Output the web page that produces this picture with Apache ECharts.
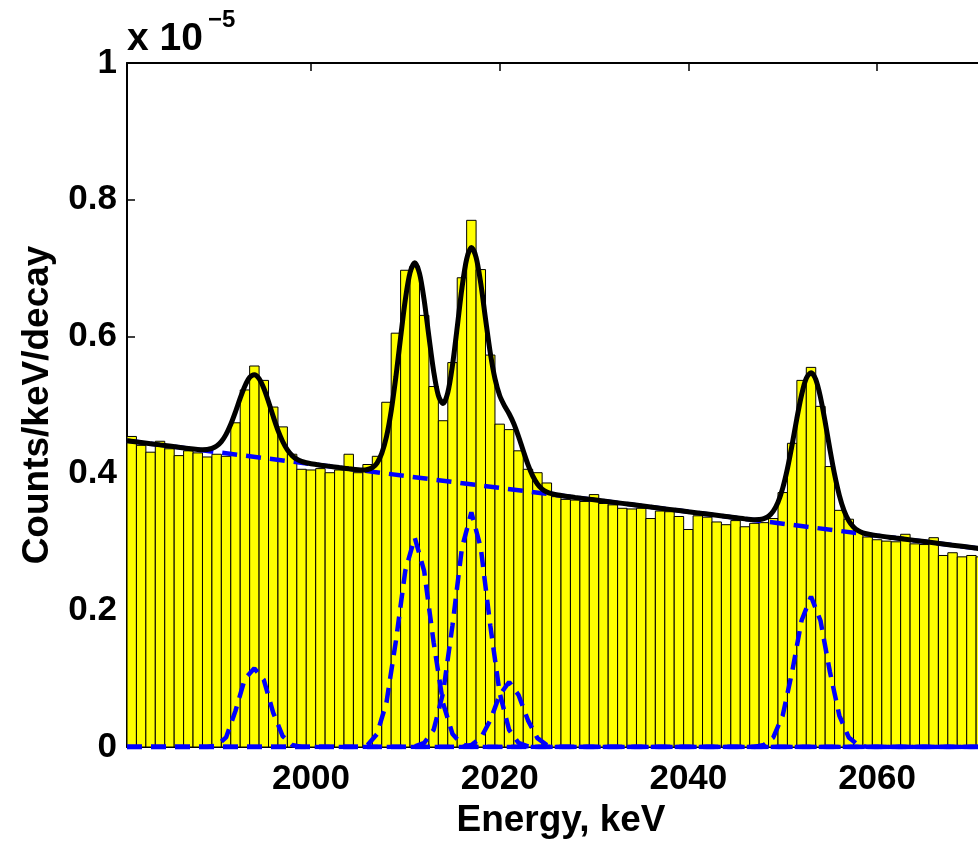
<!DOCTYPE html>
<html>
<head>
<meta charset="utf-8">
<script src="https://cdn.jsdelivr.net/npm/echarts@6/dist/echarts.min.js"></script>
<style>
  html, body { margin: 0; padding: 0; background: #fff; }
  #chart { width: 978px; height: 841px; }
</style>
</head>
<body>
<div id="chart"></div>
<script>
// ---- data (units of 1e-5 counts/keV/decay) ----
const firstBin = 1981;   // centre of the first 1-keV bin
const binWidth = 1;
const counts = [
  0.454, 0.441, 0.431, 0.447, 0.436, 0.426, 0.433, 0.430, 0.424, 0.428,
  0.425, 0.474, 0.522, 0.557, 0.536, 0.497, 0.468, 0.428, 0.406, 0.405,
  0.407, 0.401, 0.405, 0.428, 0.401, 0.413, 0.425, 0.504, 0.605, 0.697,
  0.703, 0.631, 0.527, 0.477, 0.562, 0.686, 0.770, 0.698, 0.573, 0.472,
  0.464, 0.433, 0.406, 0.401, 0.386, 0.366, 0.362, 0.361, 0.359, 0.369,
  0.356, 0.354, 0.349, 0.348, 0.349, 0.334, 0.345, 0.344, 0.337, 0.318,
  0.338, 0.336, 0.329, 0.325, 0.331, 0.322, 0.327, 0.328, 0.334, 0.372,
  0.444, 0.536, 0.555, 0.498, 0.410, 0.346, 0.333, 0.315, 0.307, 0.303,
  0.301, 0.300, 0.311, 0.297, 0.296, 0.306, 0.280, 0.284, 0.278, 0.280,
  0.278
];
const binCenters = counts.map((_, i) => firstBin + i * binWidth);

// total fit (black)
const fitCurve = [
  [1980.5,0.4478],[1982,0.4452],[1984,0.4417],[1986,0.4382],[1987,0.4364],
  [1988,0.4350],[1988.5,0.4347],[1989,0.4349],[1989.5,0.4365],[1990,0.4400],
  [1990.5,0.4465],[1991,0.4571],[1991.5,0.4718],[1992,0.4901],[1992.5,0.5100],
  [1993,0.5279],[1993.5,0.5403],[1994,0.5442],[1994.5,0.5385],[1995,0.5244],
  [1995.5,0.5048],[1996,0.4831],[1996.5,0.4630],[1997,0.4466],[1997.5,0.4343],
  [1998,0.4260],[1998.5,0.4207],[1999,0.4175],[1999.5,0.4155],[2000,0.4140],
  [2001,0.4120],[2002,0.4103],[2003,0.4085],[2004,0.4068],[2005,0.4052],
  [2005.5,0.4048],[2006,0.4057],[2006.5,0.4084],[2007,0.4152],[2007.5,0.4293],
  [2008,0.4536],[2008.5,0.4912],[2009,0.5414],[2009.5,0.5988],[2010,0.6539],
  [2010.5,0.6934],[2011,0.7079],[2011.5,0.6926],[2012,0.6530],[2012.5,0.6001],
  [2013,0.5496],[2013.5,0.5138],[2014,0.5021],[2014.5,0.5182],[2015,0.5584],
  [2015.5,0.6137],[2016,0.6709],[2016.5,0.7133],[2017,0.7301],[2017.5,0.7159],
  [2018,0.6774],[2018.5,0.6260],[2019,0.5767],[2019.5,0.5386],[2020,0.5139],
  [2020.5,0.4991],[2021,0.4872],[2021.5,0.4727],[2022,0.4540],[2022.5,0.4330],
  [2023,0.4129],[2023.5,0.3964],[2024,0.3846],[2024.5,0.3771],[2025,0.3728],
  [2025.5,0.3703],[2026,0.3687],[2027,0.3666],[2028,0.3648],[2030,0.3614],
  [2032,0.3579],[2034,0.3544],[2036,0.3509],[2038,0.3474],[2040,0.3439],
  [2042,0.3405],[2044,0.3370],[2046,0.3335],[2047,0.3324],[2047.5,0.3325],
  [2048,0.3338],[2048.5,0.3374],[2049,0.3449],[2049.5,0.3579],[2050,0.3785],
  [2050.5,0.4070],[2051,0.4423],[2051.5,0.4805],[2052,0.5149],[2052.5,0.5391],
  [2053,0.5473],[2053.5,0.5374],[2054,0.5114],[2054.5,0.4752],[2055,0.4353],
  [2055.5,0.3983],[2056,0.3680],[2056.5,0.3456],[2057,0.3309],[2057.5,0.3217],
  [2058,0.3163],[2058.5,0.3132],[2059,0.3114],[2060,0.3090],[2062,0.3055],
  [2064,0.3021],[2066,0.2986],[2068,0.2951],[2070,0.2916],[2072.5,0.2872]
];

// fit components (blue dashed)
const background = [[1980.5,0.4478],[2000,0.4137],[2020,0.3788],[2040,0.3439],[2060,0.3090],[2072.5,0.2872]];
const peak1994 = [[1980.5,0],[1989,0],[1990,0.002],[1991,0.014],[1992,0.053],[1993,0.100],[1994,0.115],[1995,0.098],[1996,0.050],[1997,0.016],[1998,0.003],[1999,0],[2072.5,0]];
const peak2011 = [[1980.5,0],[2005,0],[2006,0.003],[2007,0.019],[2008,0.065],[2009,0.155],[2010,0.258],[2011,0.306],[2012,0.257],[2013,0.153],[2014,0.064],[2015,0.019],[2016,0.004],[2017,0],[2072.5,0]];
const peak2017 = [[1980.5,0],[2010,0],[2011,0.001],[2012,0.006],[2013,0.025],[2014,0.079],[2015,0.178],[2016,0.291],[2017,0.343],[2018,0.291],[2019,0.178],[2020,0.079],[2021,0.025],[2022,0.006],[2023,0.001],[2024,0],[2072.5,0]];
const peak2021 = [[1980.5,0],[2016,0],[2017,0.003],[2018,0.013],[2019,0.039],[2020,0.076],[2021,0.095],[2022,0.076],[2023,0.039],[2024,0.013],[2025,0.003],[2026,0],[2072.5,0]];
const peak2053 = [[1980.5,0],[2047,0],[2048,0.003],[2049,0.014],[2050,0.046],[2051,0.110],[2052,0.185],[2053,0.220],[2054,0.185],[2055,0.110],[2056,0.046],[2057,0.014],[2058,0.003],[2059,0],[2072.5,0]];

const xTicks = [2000, 2020, 2040, 2060];
const yTicks = [0, 0.2, 0.4, 0.6, 0.8, 1];
const xLabel = 'Energy, keV';
const yLabel = 'Counts/keV/decay';

// ---- chart ----
const FONT = "'Liberation Sans', Arial, Helvetica, sans-serif";
const chart = echarts.init(document.getElementById('chart'), null, { renderer: 'canvas' });

const dashStyle = { color: '#0000ff', width: 4.5, type: [15, 9], cap: 'butt' };
function dashed(data) {
  return { type: 'line', data: data, showSymbol: false, symbol: 'none', smooth: false,
           lineStyle: dashStyle, silent: true, clip: true, z: 3 };
}

const option = {
  animation: false,
  backgroundColor: '#ffffff',
  grid: { left: 127, top: 63, width: 868, height: 684, containLabel: false, outerBoundsMode: 'none' },
  graphic: [
    { type: 'text', left: 127, top: 20, z: 10,
      style: { text: 'x 10', font: "bold 39px " + FONT, fill: '#000' } },
    { type: 'text', left: 208, top: 8, z: 10,
      style: { text: '\u22125', font: "bold 24px " + FONT, fill: '#000' } }
  ],
  xAxis: [
    {
      type: 'value', min: 1980.5, max: 2072.5, position: 'bottom',
      axisLine: { show: true, lineStyle: { color: '#000', width: 2 } },
      axisTick: { show: true, inside: true, length: 8, customValues: xTicks, lineStyle: { color: '#000', width: 1.5 } },
      axisLabel: { show: true, customValues: xTicks, margin: 15, color: '#000', fontSize: 35, fontWeight: 'bold', fontFamily: FONT,
                   formatter: v => String(v) },
      splitLine: { show: false },
      name: xLabel, nameLocation: 'middle', nameGap: 50,
      nameTextStyle: { color: '#000', fontSize: 37, fontWeight: 'bold', fontFamily: FONT }
    },
    {
      type: 'value', min: 1980.5, max: 2072.5, position: 'top',
      axisLine: { show: true, lineStyle: { color: '#000', width: 2 } },
      axisTick: { show: true, inside: true, length: 8, customValues: xTicks, lineStyle: { color: '#000', width: 1.5 } },
      axisLabel: { show: false },
      splitLine: { show: false }
    }
  ],
  yAxis: [
    {
      type: 'value', min: 0, max: 1, interval: 0.2,
      axisLine: { show: true, lineStyle: { color: '#000', width: 2 } },
      axisTick: { show: true, inside: true, length: 8, customValues: yTicks, lineStyle: { color: '#000', width: 1.5 } },
      axisLabel: { show: true, customValues: yTicks, margin: 10, color: '#000', fontSize: 35, fontWeight: 'bold', fontFamily: FONT,
                   formatter: v => String(+v.toFixed(1)) },
      splitLine: { show: false },
      name: yLabel, nameLocation: 'middle', nameGap: 71, nameRotate: 90,
      nameTextStyle: { color: '#000', fontSize: 37, fontWeight: 'bold', fontFamily: FONT }
    }
  ],
  series: [
    {
      type: 'custom', clip: true, z: 2,
      data: binCenters.map((e, i) => [e, counts[i]]),
      encode: { x: 0, y: 1 },
      renderItem: function (params, api) {
        const e = api.value(0), v = api.value(1);
        const p0 = api.coord([e - binWidth / 2, v]);
        const p1 = api.coord([e + binWidth / 2, 0]);
        return {
          type: 'rect',
          shape: { x: p0[0], y: p0[1], width: p1[0] - p0[0], height: p1[1] - p0[1] },
          style: { fill: '#ffff00', stroke: '#000', lineWidth: 1 }
        };
      }
    },
    dashed(background),
    dashed(peak1994),
    dashed(peak2011),
    dashed(peak2017),
    dashed(peak2021),
    dashed(peak2053),
    {
      type: 'line', data: fitCurve, showSymbol: false, symbol: 'none', smooth: 0.3,
      lineStyle: { color: '#000', width: 5 }, silent: true, clip: true, z: 4
    }
  ]
};
chart.setOption(option);
</script>
</body>
</html>
